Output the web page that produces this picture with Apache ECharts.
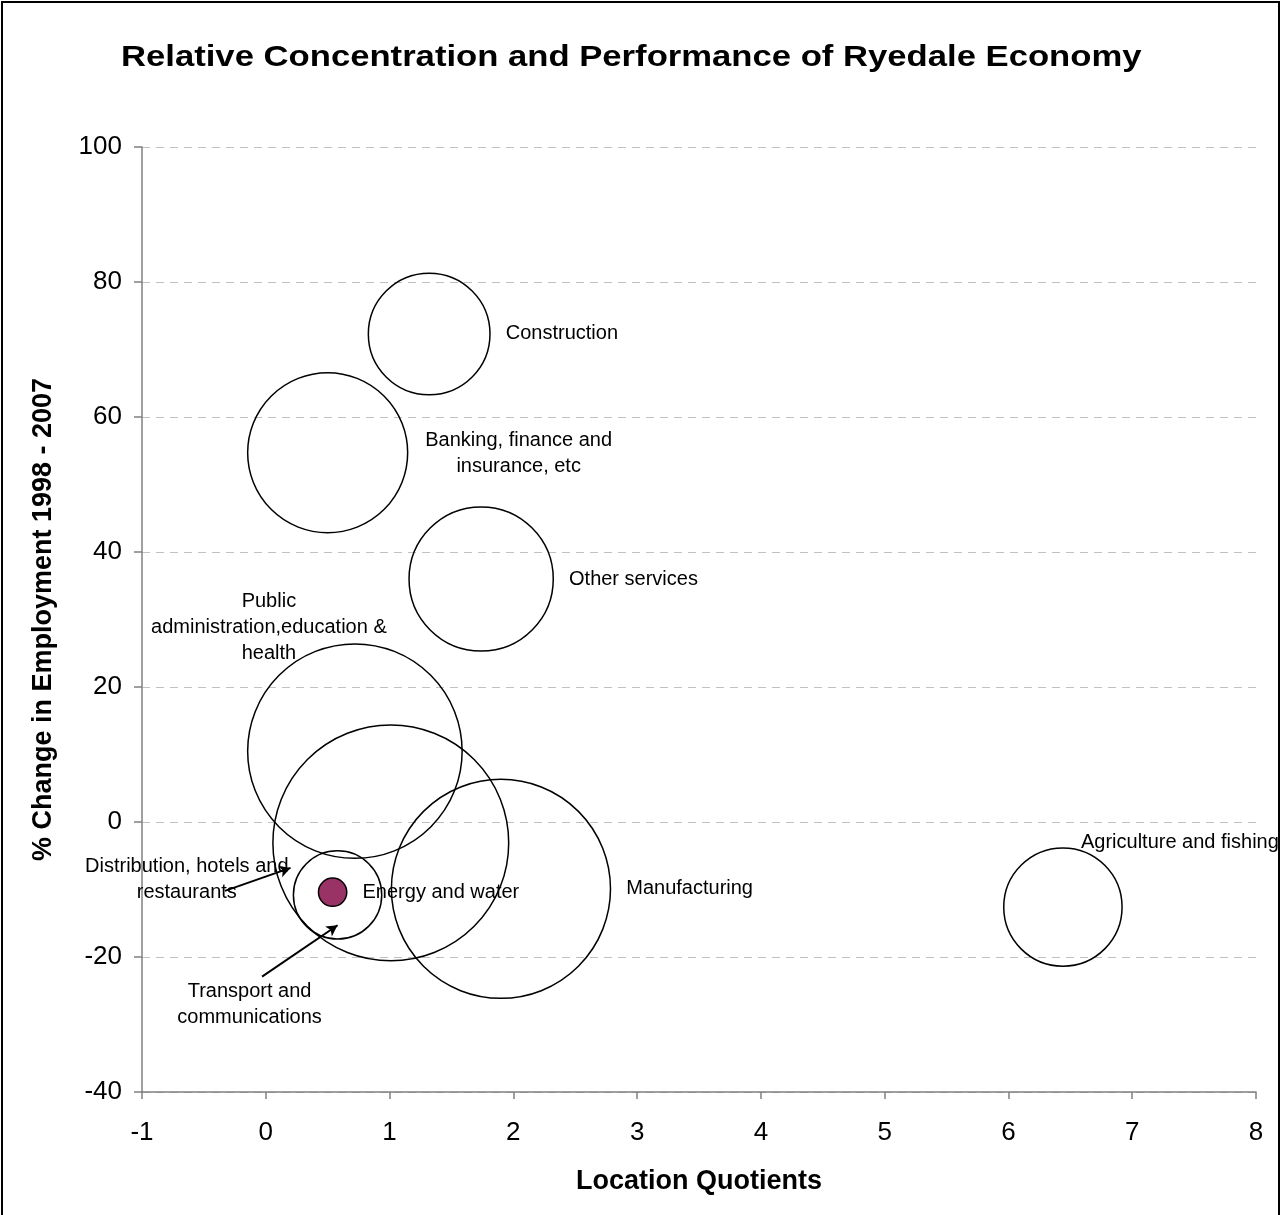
<!DOCTYPE html>
<html>
<head>
<meta charset="utf-8">
<title>Relative Concentration and Performance of Ryedale Economy</title>
<script src="https://cdn.jsdelivr.net/npm/echarts@6.0.0/dist/echarts.min.js"></script>
<style>
  html, body { margin: 0; padding: 0; background: #ffffff; }
  #chart { width: 1282px; height: 1215px; }
</style>
</head>
<body>
<div id="chart"></div>
<script>
// Sector names as they appear beside each bubble
const sectors = [
  'Construction',
  'Banking, finance and\ninsurance, etc',
  'Other services',
  'Public\nadministration,education &\nhealth',
  'Distribution, hotels and\nrestaurants',
  'Manufacturing',
  'Transport and\ncommunications',
  'Energy and water',
  'Agriculture and fishing'
];
// Location quotient (x) and % change in employment 1998-2007 (y)
const locationQuotients = [1.32, 0.50, 1.74, 0.72, 1.01, 1.90, 0.58, 0.54, 6.44];
const employmentChange = [72.3, 54.7, 36.0, 10.5, -3.1, -9.9, -10.8, -10.4, -12.6];
// Bubble size (employment, hundreds)
const bubbleSizes = [37, 64, 52, 115, 139, 120, 19.5, 2, 35];

// Axis ranges and tick steps
const xRange = [-1, 8], xStep = 1;
const yRange = [-40, 100], yStep = 20;

// Callout arrows pointing from a label to its bubble: [from, to] in data units
const callouts = [
  [[-0.33, -10.2], [0.20, -6.8]],
  [[-0.03, -22.9], [0.58, -15.3]]
];

// Label placement per sector (kept separate from the values)
const labelPlacement = {
  'Construction': { position: 'right', distance: 15 },
  'Banking, finance and\ninsurance, etc': { offset: [191, 1] },
  'Other services': { position: 'right', distance: 15 },
  'Public\nadministration,education &\nhealth': { offset: [-86, -124] },
  'Distribution, hotels and\nrestaurants': { offset: [-204, 37] },
  'Manufacturing': { position: 'right', distance: 15 },
  'Transport and\ncommunications': { offset: [-88, 110] },
  'Energy and water': { position: 'right', distance: 15 },
  'Agriculture and fishing': { offset: [117, -65] }
};

const FONT = '"Liberation Sans", Arial, Helvetica, sans-serif';
const TITLE = 'Relative Concentration and Performance of Ryedale Economy';

const bubbleData = sectors.map((name, i) => {
  const p = labelPlacement[name];
  const isFilled = name === 'Energy and water';
  const label = p.offset
    ? { show: true, position: 'inside', offset: p.offset, align: 'center', verticalAlign: 'middle' }
    : { show: true, position: p.position, distance: p.distance };
  return {
    name: name,
    value: [locationQuotients[i], employmentChange[i], bubbleSizes[i]],
    itemStyle: isFilled
      ? { color: '#993366', borderColor: '#000000', borderWidth: 1.5, opacity: 1 }
      : { color: 'rgba(255,255,255,0)', borderColor: '#000000', borderWidth: 1.5, opacity: 1 },
    z: isFilled ? 3 : 2,
    label: label
  };
});

const chart = echarts.init(document.getElementById('chart'), null, { renderer: 'canvas' });

chart.setOption({
  animation: false,
  backgroundColor: '#ffffff',
  graphic: [
    {
      // chart title, set in a wide bold face
      type: 'text',
      x: 121,
      y: 58,
      scaleX: 1.155,
      style: {
        text: TITLE,
        font: 'bold 30px ' + FONT,
        fill: '#000000',
        textAlign: 'left',
        textVerticalAlign: 'middle'
      },
      silent: true,
      z: 100
    },
    {
      // outer frame
      type: 'rect',
      shape: { x: 2, y: 2, width: 1277, height: 1260 },
      style: { fill: 'none', stroke: '#000000', lineWidth: 2 },
      silent: true,
      z: 100
    }
  ],
  grid: { left: 142, right: 26, top: 147, bottom: 123 },
  xAxis: {
    type: 'value',
    min: xRange[0],
    max: xRange[1],
    interval: xStep,
    name: 'Location Quotients',
    nameLocation: 'middle',
    nameGap: 76,
    nameTextStyle: { fontFamily: FONT, fontSize: 27, fontWeight: 'bold', color: '#000000' },
    axisLine: { onZero: false, lineStyle: { color: '#808080', width: 1.5 } },
    axisTick: { show: true, inside: false, length: 7, lineStyle: { color: '#808080', width: 1.5 } },
    axisLabel: { fontFamily: FONT, fontSize: 26, color: '#000000', margin: 28 },
    splitLine: { show: false }
  },
  yAxis: {
    type: 'value',
    min: yRange[0],
    max: yRange[1],
    interval: yStep,
    name: '% Change in Employment 1998 - 2007',
    nameLocation: 'middle',
    nameGap: 85,
    nameRotate: 90,
    nameTextStyle: { fontFamily: FONT, fontSize: 27, fontWeight: 'bold', color: '#000000' },
    axisLine: { show: true, onZero: false, lineStyle: { color: '#808080', width: 1.5 } },
    axisTick: { show: true, inside: false, length: 8, lineStyle: { color: '#808080', width: 1.5 } },
    axisLabel: { fontFamily: FONT, fontSize: 26, color: '#000000', margin: 20 },
    splitLine: { show: true, lineStyle: { color: '#c0c0c0', type: [8, 6], width: 1 } }
  },
  series: [{
    type: 'scatter',
    data: bubbleData,
    symbol: 'circle',
    symbolSize: (val) => 20 * Math.sqrt(val[2]),
    label: {
      fontFamily: FONT,
      fontSize: 20,
      color: '#000000',
      lineHeight: 26,
      formatter: '{b}'
    },
    emphasis: { disabled: true },
    markLine: {
      silent: true,
      symbol: ['none', 'arrow'],
      symbolSize: [9, 11],
      label: { show: false },
      lineStyle: { color: '#000000', width: 2, type: 'solid', opacity: 1 },
      data: callouts.map(c => [{ coord: c[0] }, { coord: c[1] }])
    }
  }]
});
</script>
</body>
</html>
